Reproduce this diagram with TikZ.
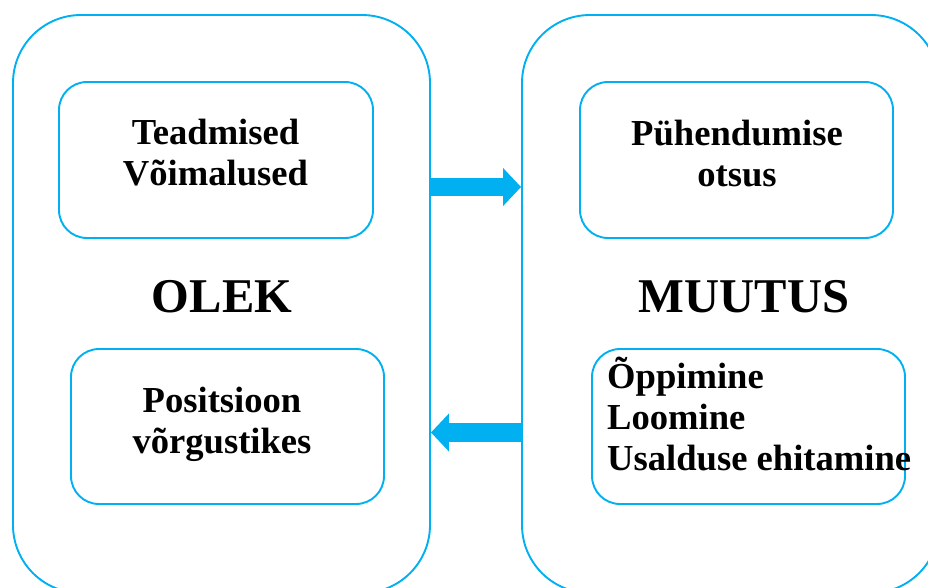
\documentclass[tikz,border=0pt]{standalone}
\usepackage{fontspec}
\setmainfont{Liberation Serif}
\usetikzlibrary{arrows.meta}
\definecolor{cyanline}{RGB}{0,176,240}
\tikzset{
  outerbox/.style={draw=cyanline, line width=1.9pt, rounded corners=68pt,
    inner sep=0pt, minimum width=417pt, minimum height=578pt},
  innerbox/.style={draw=cyanline, line width=1.9pt, rounded corners=28pt,
    inner sep=0pt, minimum width=313pt, minimum height=155pt},
  boxtext/.style={font=\fontsize{36.6}{41}\selectfont\bfseries, inner sep=0pt, anchor=base},
  titletext/.style={font=\fontsize{48.5}{50}\selectfont\bfseries, inner sep=0pt, anchor=base},
  flowarrow/.style={draw=cyanline, line width=18.5pt,
    -{Triangle[length=18pt, width=37pt, fill=cyanline]}},
}
\begin{document}
\begin{tikzpicture}[x=1pt, y=-1pt]
  \useasboundingbox (0,0) rectangle (928,587);
  \clip (0,0) rectangle (928,587);

  % the two large containers
  \node[outerbox] (olek) at (221.5,304) {};
  \node[outerbox] (muutus) at (730.5,304) {};

  % inner boxes
  \node[innerbox, minimum width=314pt, minimum height=156pt] (lt) at (216,160) {};
  \node[innerbox] (lb) at (227.5,426.5) {};
  \node[innerbox, minimum height=156pt] (rt) at (736.5,160) {};
  \node[innerbox] (rb) at (748.5,426.5) {};

  % texts
  \node[boxtext] (ltt) at (215.5,144) {\begin{tabular}[t]{@{}c@{}}Teadmised\\Võimalused\end{tabular}};
  \node[boxtext] (lbt) at (222,412) {\begin{tabular}[t]{@{}c@{}}Positsioon\\võrgustikes\end{tabular}};
  \node[boxtext] (rtt) at (737,145) {\begin{tabular}[t]{@{}c@{}}Pühendumise\\otsus\end{tabular}};
  \node[boxtext, anchor=base west] (rbt) at (607,388) {\begin{tabular}[t]{@{}l@{}}Õppimine\\Loomine\\Usalduse ehitamine\end{tabular}};

  \node[titletext] (olekt) at (222,312) {OLEK};
  \node[titletext] (muutust) at (744,312) {MUUTUS};

  % arrows between the containers
  \coordinate (a1s) at (olek.east |- 0,187);
  \coordinate (a1e) at (muutus.west |- 0,187);
  \coordinate (a2s) at (muutus.west |- 0,432.5);
  \coordinate (a2e) at (olek.east |- 0,432.5);
  \draw[flowarrow] (a1s) -- (a1e);
  \draw[flowarrow] (a2s) -- (a2e);
\end{tikzpicture}
\end{document}
